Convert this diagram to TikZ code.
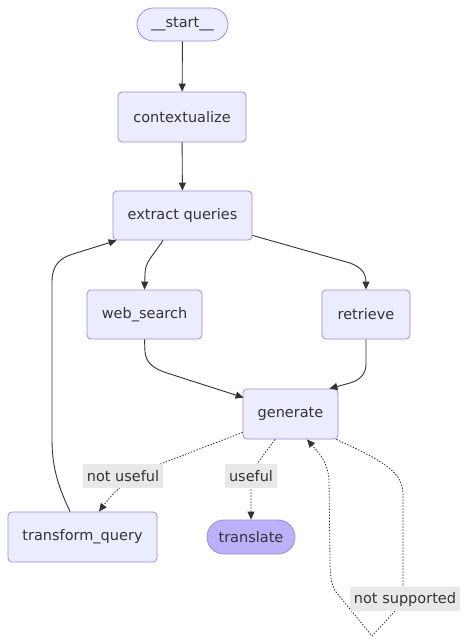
\documentclass[tikz,border=0pt]{standalone}
\usepackage{fontspec}
\setmainfont{DejaVu Sans}
\usetikzlibrary{arrows.meta,calc}
\definecolor{nodefill}{HTML}{ECECFF}
\definecolor{nodeline}{HTML}{A28ADF}
\definecolor{lastfill}{HTML}{BAB1F8}
\definecolor{txt}{HTML}{333333}
\definecolor{lblbg}{HTML}{E8E8E8}
\begin{document}
\begin{tikzpicture}[x=1pt,y=-1pt,
  font=\fontsize{14.5}{17}\selectfont,
  box/.style={draw=nodeline,fill=nodefill,line width=0.8pt,rounded corners=4pt,
    inner sep=0pt,minimum height=50pt,text=txt},
  stadium/.style={draw=nodeline,line width=0.8pt,rounded corners=16.5pt,
    inner sep=0pt,minimum height=33pt,text=txt},
  lbl/.style={fill=lblbg,inner xsep=4pt,inner ysep=0pt,minimum height=24pt,text=txt},
  arr/.style={draw=txt,line width=0.9pt,-{Triangle[length=8pt,width=7pt]}},
  dsh/.style={draw=txt,line width=0.8pt,dash pattern=on 1.5pt off 1.5pt,-{Triangle[length=8pt,width=7pt]}}]
\useasboundingbox (0,0) rectangle (468,644);
\fill[white] (0,0) rectangle (468,644);

\node[stadium,fill=nodefill,minimum width=91pt] (start) at (182.5,24.5) {\_\_start\_\_};
\node[box,minimum width=128pt] (ctx) at (182,117) {contextualize};
\node[box,minimum width=139pt,minimum height=49pt] (ext) at (182.5,215.5) {extract queries};
\node[box,minimum width=115pt,minimum height=49pt] (web) at (144.5,314.5) {web\_search};
\node[box,minimum width=88pt,minimum height=49pt] (ret) at (366,314.5) {retrieve};
\node[box,minimum width=95pt] (gen) at (290.5,414) {generate};
\node[box,minimum width=149pt] (tq) at (82.5,537) {transform\_query};
\node[stadium,fill=lastfill,minimum width=88pt,minimum height=34pt,rounded corners=17pt] (tr) at (251,537) {translate};

% solid edges
\draw[arr] (start) -- (ctx);
\draw[arr] (ctx) -- (ext);
\draw[arr] ($(ext.south)+(-19.5,0)$) .. controls (152,257) and (145,262) .. (145,274) -- (web.north);
\draw[arr] ($(ext.south east)+(0,-5)$) -- (350,263) .. controls (360,267) and (366,272) .. (366,282) -- (ret.north);
\draw[arr] (web.south) -- (145,352) .. controls (146,362) and (152,368) .. (167,373) -- ($(gen.north west)+(1,9)$);
\draw[arr] (ret.south) -- (366,364) .. controls (366,374) and (360,380) .. (350,383) -- ($(gen.north east)+(-9,0)$);
\draw[arr] ($(tq.north)+(-12.5,0)$) .. controls (60,490) and (52,470) .. (52,440) -- (52,282)
  .. controls (52,265) and (60,258) .. (73,254) -- ($(ext.south west)+(4,0)$);

% dashed edges
\draw[dsh] ($(gen.south west)+(0,-7)$) -- (163,463) .. controls (135,474) and (118,486) .. ($(tq.north)+(16.5,0)$);
\draw[dsh] ($(gen.south)+(-15.5,0)$) .. controls (262,458) and (251,468) .. (251,482) -- (tr.north);
\draw[dsh] ($(gen.south east)+(-2,0)$) .. controls (385,462) and (403,472) .. (403,495) -- (403,600)
  -- (395,611) -- (372,636) -- (336,592) .. controls (331,585) and (330,575) .. (330,560)
  -- (329,480) .. controls (328,462) and (318,452) .. ($(gen.south)+(16.5,0)$);

% labels
\node[lbl] (lnu) at (123,476) {not useful};
\node[lbl] (lu) at (251,476) {useful};
\node[lbl] (lns) at (405,599) {not supported};
\end{tikzpicture}
\end{document}
